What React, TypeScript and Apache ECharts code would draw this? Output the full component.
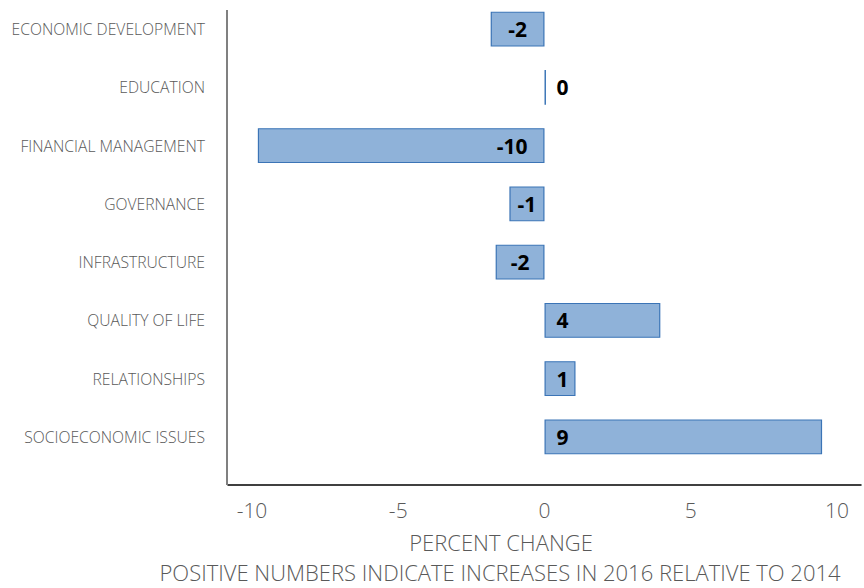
import React, { useEffect, useRef } from "react";
import * as echarts from "echarts";

const categories = [
  "ECONOMIC DEVELOPMENT",
  "EDUCATION",
  "FINANCIAL MANAGEMENT",
  "GOVERNANCE",
  "INFRASTRUCTURE",
  "QUALITY OF LIFE",
  "RELATIONSHIPS",
  "SOCIOECONOMIC ISSUES",
];
const values = [-1.84, 0.05, -9.8, -1.2, -1.67, 3.96, 1.06, 9.49];
const tickValues = [-10, -5, 0, 5, 10];
const axisTitle = "PERCENT CHANGE";
const noteText = "POSITIVE NUMBERS INDICATE INCREASES IN 2016 RELATIVE TO 2014";

const FONT = "Open Sans";

export default function App() {
  const ref = useRef<HTMLDivElement>(null);
  useEffect(() => {
    document.body.style.margin = "0";
    const chart = echarts.init(ref.current!, null, { renderer: "svg" });
    const data = values.map((v) => ({
      value: v,
      label: {
        position: v < 0 ? (Math.abs(v) < 3 ? "inside" : "insideRight") : "insideLeft",
        distance: v < 0 ? 17 : 12,
      },
    }));
    chart.setOption({
      animation: false,
      grid: { left: 228, right: 0, top: -3, height: 469, containLabel: false },
      xAxis: {
        type: "value",
        min: -10.82,
        max: 10.82,
        splitNumber: 4,
        offset: 19,
        axisLine: { show: true, lineStyle: { color: "#000000", width: 1.5 } },
        axisTick: { show: false },
        splitLine: { show: false },
        axisLabel: {
          margin: 14,
          fontSize: 21,
          fontFamily: FONT,
          fontWeight: 300,
          color: "#595959",
          formatter: (v: number) => (tickValues.includes(v) ? String(v) : ""),
        },
      },
      yAxis: {
        type: "category",
        data: categories,
        inverse: true,
        axisLine: { show: false },
        axisTick: { show: false },
        axisLabel: {
          margin: 23,
          fontSize: 15.7,
          fontFamily: FONT,
          fontWeight: 300,
          color: "#595959",
          verticalAlign: "middle",
          padding: [7, 0, 0, 0],
        },
      },
      graphic: [
        {
          type: "line",
          shape: { x1: 227, y1: 10, x2: 227, y2: 485 },
          style: { stroke: "#808080", lineWidth: 2 },
          z: 10,
        },
        {
          type: "text",
          x: 501,
          y: 542,
          style: {
            text: axisTitle,
            fontSize: 22,
            fontFamily: FONT,
            fontWeight: 300,
            fill: "#595959",
            textAlign: "center",
            textVerticalAlign: "middle",
          },
        },
        {
          type: "text",
          x: 500,
          y: 572,
          style: {
            text: noteText,
            fontSize: 22,
            fontFamily: FONT,
            fontWeight: 300,
            fill: "#595959",
            textAlign: "center",
            textVerticalAlign: "middle",
          },
        },
      ],
      series: [
        {
          type: "bar",
          data,
          barCategoryGap: "40%",
          itemStyle: { color: "#8FB2D9", borderColor: "#3B74B6", borderWidth: 1.2 },
          label: {
            show: true,
            fontSize: 21,
            fontWeight: "bold",
            fontFamily: FONT,
            color: "#000000",
            formatter: (p: any) => String(Math.round(p.value)),
          },
        },
      ],
    });
    return () => chart.dispose();
  }, []);
  return <div ref={ref} style={{ width: 864, height: 588 }} />;
}
